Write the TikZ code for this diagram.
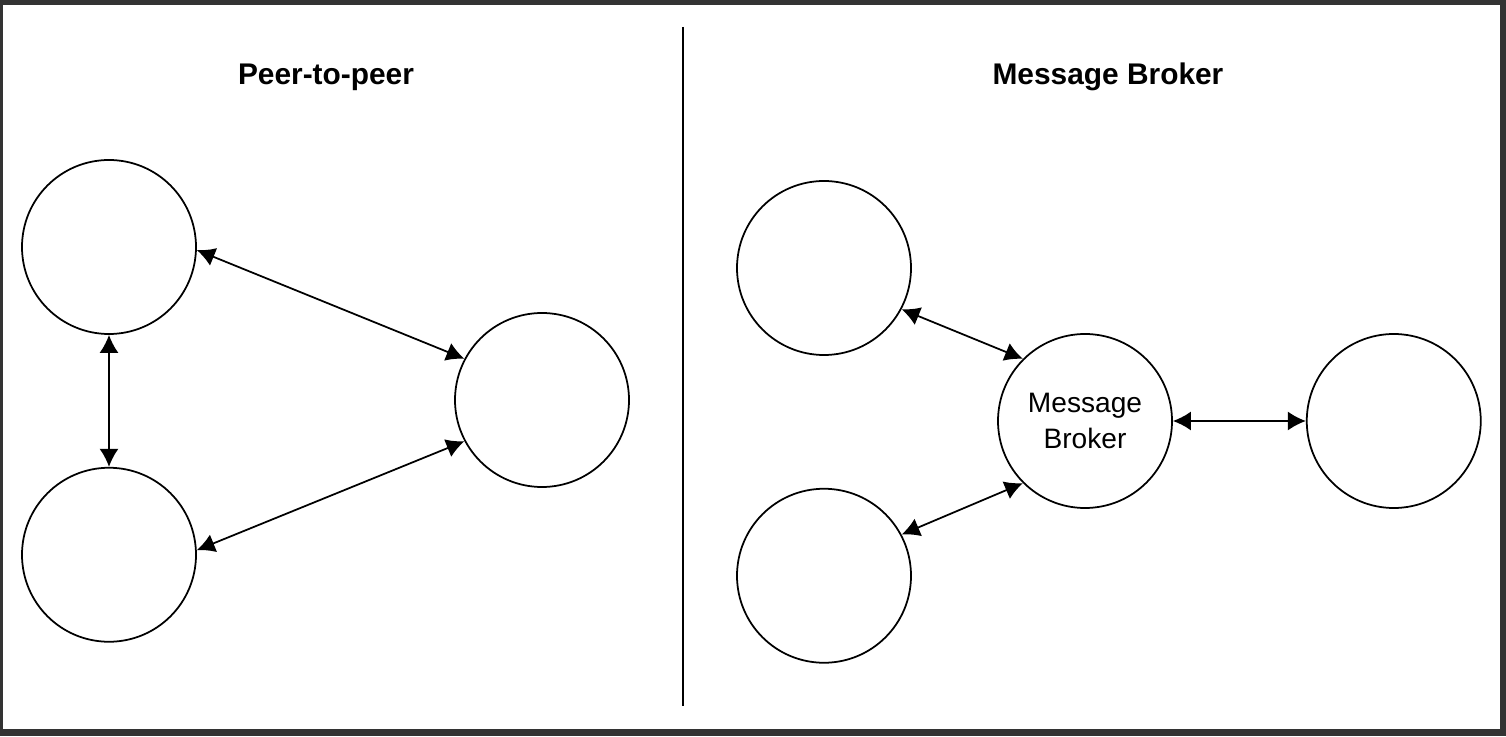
\documentclass[tikz,border=0pt]{standalone}
\usepackage{fontspec}
\setmainfont{Liberation Sans}
\usepackage{tikz}
\usetikzlibrary{arrows.meta,positioning}

\begin{document}
\begin{tikzpicture}[
    peer/.style={circle,draw=black,line width=1pt,minimum size=3.48cm,inner sep=0pt,
      align=center,font=\fontsize{16}{20}\selectfont},
    heading/.style={font=\fontsize{17}{20}\selectfont\bfseries},
    link/.style={{Latex[length=3.6mm,width=3.8mm]}-{Latex[length=3.6mm,width=3.8mm]},
      draw=black,line width=1pt}
  ]
    \fill[black!80] (0,0) rectangle (30.12,14.72);
    \fill[white] (0.06,0.14) rectangle (30.0,14.62);
    \coordinate (divtop) at (13.66,14.18);
    \coordinate (divbot) at (13.66,0.60);
    \draw[line width=1.2pt] (divtop) -- (divbot);
    \node[heading] (p2p) at (6.52,13.18) {Peer-to-peer};
    \node[heading] (mb) at (22.16,13.18) {Message Broker};
    \node[peer] (ltop) at (2.18,9.78) {};
    \node[peer,below=2.64cm of ltop] (lbot) {};
    \node[peer] (lright) at (10.84,6.72) {};
    \node[peer] (rtop) at (16.48,9.36) {};
    \node[peer,below=2.64cm of rtop] (rbot) {};
    \node[peer] (broker) at (21.70,6.30) {Message\\Broker};
    \node[peer,right=2.66cm of broker] (rright) {};
    \draw[link] (ltop.-2) -- (lright.152);
    \draw[link] (lbot.3) -- (lright.208);
    \draw[link] (ltop.south) -- (lbot.north);
    \draw[link] (rtop.-28) -- (broker.135);
    \draw[link] (rbot.28) -- (broker.225);
    \draw[link] (broker.east) -- (rright.west);
  \end{tikzpicture}
\end{document}
